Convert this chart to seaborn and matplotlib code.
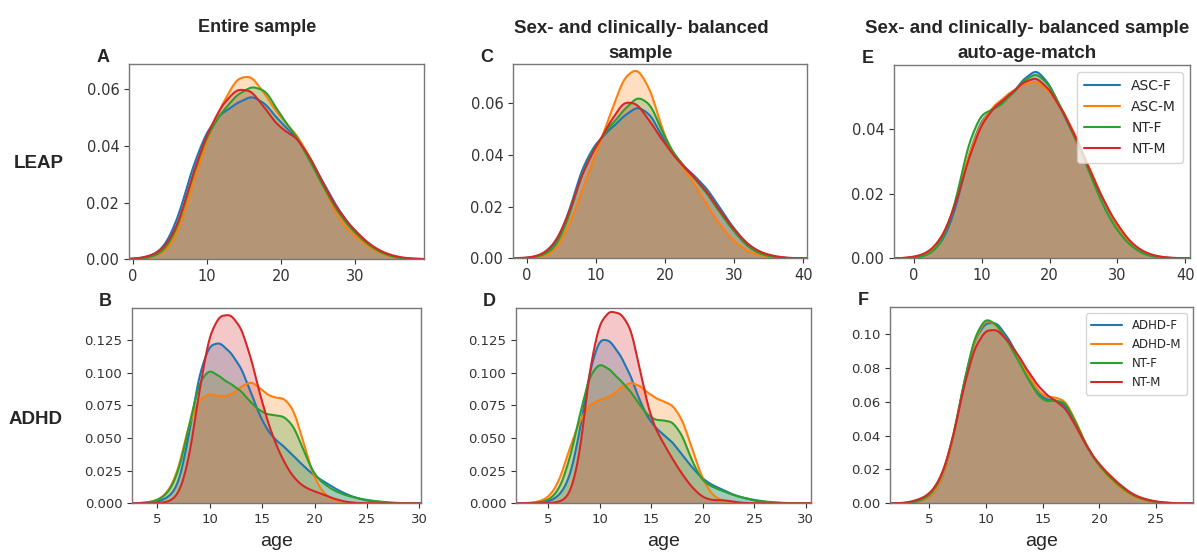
import matplotlib
matplotlib.use("Agg")
import matplotlib.pyplot as plt
import numpy as np
import seaborn as sns

# age grids the densities were read on
age_top = [0, 2, 4, 6, 8, 10, 12, 14, 16, 18, 20, 22, 24, 26, 28, 30, 32, 34, 36, 38]
age_bot = [3, 4, 5, 6, 7, 8, 9, 10, 11, 12, 13, 14, 15, 16, 17, 18, 19, 20,
           21, 22, 23, 24, 25, 26, 27, 28, 29]

leap_groups = ["ASC-F", "ASC-M", "NT-F", "NT-M"]
adhd_groups = ["ADHD-F", "ADHD-M", "NT-F", "NT-M"]

# LEAP, entire sample (A)
a_asc_f = [0, 0.0005, 0.003, 0.013, 0.032, 0.045, 0.051, 0.054, 0.0573, 0.054, 0.047, 0.043, 0.035, 0.025, 0.016, 0.0095, 0.0045, 0.0015, 0.0003, 0]
a_asc_m = [0, 0.0003, 0.0015, 0.008, 0.026, 0.043, 0.055, 0.065, 0.066, 0.058, 0.050, 0.045, 0.036, 0.024, 0.013, 0.008, 0.004, 0.0012, 0.0002, 0]
a_nt_f = [0, 0.0003, 0.002, 0.010, 0.029, 0.044, 0.052, 0.058, 0.0612, 0.060, 0.050, 0.044, 0.034, 0.024, 0.015, 0.009, 0.0045, 0.0015, 0.0003, 0]
a_nt_m = [0, 0.0008, 0.003, 0.011, 0.030, 0.045, 0.055, 0.061, 0.0605, 0.053, 0.046, 0.044, 0.036, 0.025, 0.016, 0.010, 0.005, 0.002, 0.0006, 0]

# LEAP, sex- and clinically-balanced (C)
c_asc_f = [0, 0.0008, 0.004, 0.016, 0.035, 0.044, 0.049, 0.054, 0.0585, 0.055, 0.044, 0.037, 0.032, 0.027, 0.019, 0.011, 0.005, 0.0018, 0.0004, 0]
c_asc_m = [0, 0.0003, 0.002, 0.011, 0.025, 0.039, 0.053, 0.068, 0.072, 0.063, 0.044, 0.036, 0.029, 0.020, 0.012, 0.006, 0.0025, 0.0008, 0.0002, 0]
c_nt_f = [0, 0.0008, 0.003, 0.014, 0.033, 0.043, 0.050, 0.056, 0.062, 0.059, 0.045, 0.037, 0.031, 0.025, 0.017, 0.010, 0.004, 0.0013, 0.0003, 0]
c_nt_m = [0.0002, 0.001, 0.005, 0.016, 0.033, 0.043, 0.052, 0.061, 0.060, 0.052, 0.044, 0.037, 0.032, 0.026, 0.018, 0.011, 0.005, 0.002, 0.0007, 0.0001]

# LEAP, auto-age-match (E)
e_asc_f = [0.0002, 0.001, 0.004, 0.013, 0.031, 0.042, 0.045, 0.048, 0.053, 0.057, 0.052, 0.043, 0.035, 0.026, 0.017, 0.009, 0.004, 0.0013, 0.0003, 0]
e_asc_m = [0.0003, 0.0012, 0.005, 0.015, 0.031, 0.041, 0.046, 0.049, 0.052, 0.053, 0.050, 0.044, 0.036, 0.026, 0.017, 0.009, 0.004, 0.0015, 0.0004, 0.0001]
e_nt_f = [0.0001, 0.0007, 0.004, 0.015, 0.035, 0.044, 0.0445, 0.048, 0.053, 0.056, 0.052, 0.044, 0.035, 0.025, 0.015, 0.008, 0.0035, 0.001, 0.0002, 0]
e_nt_m = [0.0004, 0.0015, 0.0055, 0.015, 0.030, 0.041, 0.046, 0.049, 0.053, 0.055, 0.051, 0.044, 0.036, 0.026, 0.017, 0.010, 0.0045, 0.0017, 0.0005, 0.0001]

# ADHD, entire sample (B)
b_adhd_f = [0, 0.0003, 0.001, 0.004, 0.012, 0.050, 0.100, 0.122, 0.123, 0.115, 0.104, 0.083, 0.062, 0.050, 0.044, 0.036, 0.028, 0.021, 0.016, 0.011, 0.007, 0.004, 0.002, 0.001, 0.0003, 0, 0]
b_adhd_m = [0, 0.0005, 0.002, 0.008, 0.024, 0.062, 0.081, 0.085, 0.082, 0.083, 0.090, 0.095, 0.087, 0.081, 0.082, 0.074, 0.045, 0.018, 0.006, 0.002, 0.0005, 0.0001, 0, 0, 0, 0, 0]
b_nt_f = [0, 0.0005, 0.002, 0.007, 0.022, 0.058, 0.094, 0.103, 0.096, 0.091, 0.086, 0.076, 0.069, 0.067, 0.067, 0.060, 0.039, 0.021, 0.014, 0.009, 0.006, 0.004, 0.0025, 0.0015, 0.0007, 0.0002, 0]
b_nt_m = [0, 0, 0.0001, 0.0008, 0.005, 0.030, 0.085, 0.129, 0.142, 0.1425, 0.133, 0.108, 0.075, 0.050, 0.032, 0.019, 0.012, 0.009, 0.006, 0.003, 0.001, 0.0002, 0, 0, 0, 0, 0]

# ADHD, sex- and clinically-balanced (D)
d_adhd_f = [0, 0.0003, 0.001, 0.005, 0.016, 0.050, 0.100, 0.124, 0.121, 0.110, 0.095, 0.073, 0.059, 0.052, 0.046, 0.036, 0.026, 0.018, 0.013, 0.010, 0.006, 0.004, 0.002, 0.001, 0.0004, 0.0001, 0]
d_adhd_m = [0.0002, 0.001, 0.004, 0.015, 0.040, 0.062, 0.075, 0.078, 0.080, 0.087, 0.092, 0.088, 0.081, 0.077, 0.075, 0.064, 0.040, 0.017, 0.005, 0.0015, 0.0003, 0, 0, 0, 0, 0, 0]
d_nt_f = [0, 0.0005, 0.002, 0.009, 0.030, 0.065, 0.097, 0.106, 0.100, 0.092, 0.084, 0.072, 0.063, 0.062, 0.062, 0.052, 0.030, 0.016, 0.012, 0.009, 0.006, 0.004, 0.0025, 0.0013, 0.0006, 0.0002, 0]
d_nt_m = [0, 0, 0.0001, 0.0008, 0.004, 0.030, 0.100, 0.134, 0.141, 0.139, 0.130, 0.093, 0.060, 0.046, 0.033, 0.021, 0.011, 0.004, 0.002, 0.0025, 0.001, 0.0002, 0, 0, 0, 0, 0]

# ADHD, auto-age-match (F)
f_adhd_f = [0.0001, 0.001, 0.003, 0.011, 0.033, 0.070, 0.098, 0.107, 0.107, 0.097, 0.085, 0.072, 0.061, 0.061, 0.059, 0.046, 0.032, 0.022, 0.015, 0.009, 0.0045, 0.002, 0.0007, 0.0001, 0, 0, 0]
f_adhd_m = [0.0001, 0.001, 0.003, 0.011, 0.033, 0.068, 0.097, 0.109, 0.104, 0.094, 0.083, 0.072, 0.062, 0.062, 0.061, 0.047, 0.032, 0.021, 0.014, 0.008, 0.004, 0.0015, 0.0005, 0.0002, 0, 0, 0]
f_nt_f = [0.0001, 0.001, 0.004, 0.013, 0.035, 0.070, 0.100, 0.111, 0.106, 0.095, 0.083, 0.070, 0.060, 0.061, 0.061, 0.047, 0.032, 0.022, 0.015, 0.009, 0.0045, 0.002, 0.0007, 0.0001, 0, 0, 0]
f_nt_m = [0.0003, 0.002, 0.005, 0.014, 0.035, 0.068, 0.093, 0.103, 0.103, 0.096, 0.086, 0.075, 0.066, 0.061, 0.057, 0.045, 0.032, 0.023, 0.016, 0.010, 0.005, 0.0025, 0.001, 0.0003, 0, 0, 0]

colors = sns.color_palette("tab10", 4)

sns.set_style("ticks")
plt.rcParams["font.family"] = ["DejaVu Sans"]
arial = ["Liberation Sans", "DejaVu Sans"]

fig = plt.figure(figsize=(11.97, 5.53), dpi=100)

panels = [
    # letter, rect, ages, series, labels, smoothing sd, xlim, ylim, xticks, yticks, fmt, tick size, legend
    ("A", [0.1078, 0.5316, 0.2464, 0.3526], age_top, [a_asc_f, a_asc_m, a_nt_f, a_nt_m], leap_groups, 1.2,
     (-0.55, 39.3), (0, 0.069), [0, 10, 20, 30], [0, 0.02, 0.04, 0.06], "{:.2f}", 10.5, False),
    ("C", [0.4286, 0.5329, 0.2454, 0.3513], age_top, [c_asc_f, c_asc_m, c_nt_f, c_nt_m], leap_groups, 1.2,
     (-1.98, 40.5), (0, 0.075), [0, 10, 20, 30, 40], [0, 0.02, 0.04, 0.06], "{:.2f}", 10.5, False),
    ("E", [0.7469, 0.5329, 0.2473, 0.3495], age_top, [e_asc_f, e_asc_m, e_nt_f, e_nt_m], leap_groups, 1.2,
     (-2.95, 40.7), (0, 0.0598), [0, 10, 20, 30, 40], [0, 0.02, 0.04], "{:.2f}", 10.5, True),
    ("B", [0.1103, 0.0899, 0.2412, 0.3532], age_bot, [b_adhd_f, b_adhd_m, b_nt_f, b_nt_m], adhd_groups, 0.6,
     (2.59, 30.13), (0, 0.1495), [5, 10, 15, 20, 25, 30], [0, 0.025, 0.05, 0.075, 0.1, 0.125], "{:.3f}", 9.5, False),
    ("D", [0.4311, 0.0899, 0.2462, 0.3526], age_bot, [d_adhd_f, d_adhd_m, d_nt_f, d_nt_m], adhd_groups, 0.6,
     (1.85, 30.48), (0, 0.1495), [5, 10, 15, 20, 25, 30], [0, 0.025, 0.05, 0.075, 0.1, 0.125], "{:.3f}", 9.5, False),
    ("F", [0.7435, 0.0899, 0.2531, 0.3544], age_bot, [f_adhd_f, f_adhd_m, f_nt_f, f_nt_m], adhd_groups, 0.6,
     (1.53, 28.27), (0, 0.116), [5, 10, 15, 20, 25], [0, 0.02, 0.04, 0.06, 0.08, 0.1], "{:.2f}", 9.5, True),
]

for letter, rect, ages, series, labels, sd, xlim, ylim, xt, yt, yfmt, fs, show_leg in panels:
    ax = fig.add_axes(rect)
    for vals, lab, col in zip(series, labels, colors):
        # bandwidth factor so the kernel sd is `sd` years
        bw = sd / np.sqrt(np.cov(ages, aweights=vals))
        sns.kdeplot(x=ages, weights=vals, bw_method=bw, cut=1.5, color=col,
                    lw=1.5, label=lab, ax=ax)
        sns.kdeplot(x=ages, weights=vals, bw_method=bw, cut=1.5, color=col,
                    fill=True, alpha=0.25, linewidth=0, ax=ax)
    ax.set_xlabel("")
    ax.set_ylabel("")
    ax.set_xlim(*xlim)
    ax.set_ylim(*ylim)
    ax.set_xticks(xt)
    ax.set_yticks(yt)
    ax.set_yticklabels([yfmt.format(v) for v in yt])
    ax.tick_params(labelsize=fs, colors="#333333", length=3.5, width=0.8)
    for sp in ax.spines.values():
        sp.set_color("#777777")
        sp.set_linewidth(1.0)
    if show_leg:
        handles = [ln for ln in ax.get_lines() if ln.get_label() in labels]
        ax.legend(handles=handles, labels=labels, loc="upper right",
                  fontsize=10 if letter == "E" else 8.5,
                  handlelength=2.6, borderpad=0.5, labelspacing=0.5)
    # panel letter
    fig.text(rect[0] - 0.022, rect[1] + rect[3] + 0.012, letter, fontsize=13,
             fontweight="bold", family=arial, ha="center", va="center")
    if letter in "BDF":
        fig.text(rect[0] + rect[2] / 2, 1 - 541 / 553, "age", fontsize=14,
                 family=arial, ha="center", va="center")

# column headers
fig.text(0.215, 0.951, "Entire sample", fontsize=13, fontweight="bold",
         family=arial, ha="center", va="center")
fig.text(0.5355, 0.948, "Sex- and clinically- balanced", fontsize=13.5, fontweight="bold",
         family=arial, ha="center", va="center")
fig.text(0.5355, 0.904, "sample", fontsize=13.5, fontweight="bold",
         family=arial, ha="center", va="center")
fig.text(0.858, 0.948, "Sex- and clinically- balanced sample", fontsize=13.5, fontweight="bold",
         family=arial, ha="center", va="center")
fig.text(0.858, 0.904, "auto-age-match", fontsize=13.5, fontweight="bold",
         family=arial, ha="center", va="center")

# row headers
fig.text(0.032, 1 - 164 / 553, "LEAP", fontsize=13.5, fontweight="bold",
         family=arial, ha="center", va="center")
fig.text(0.030, 1 - 420 / 553, "ADHD", fontsize=13.5, fontweight="bold",
         family=arial, ha="center", va="center")

fig.savefig("out.png", dpi=100)
